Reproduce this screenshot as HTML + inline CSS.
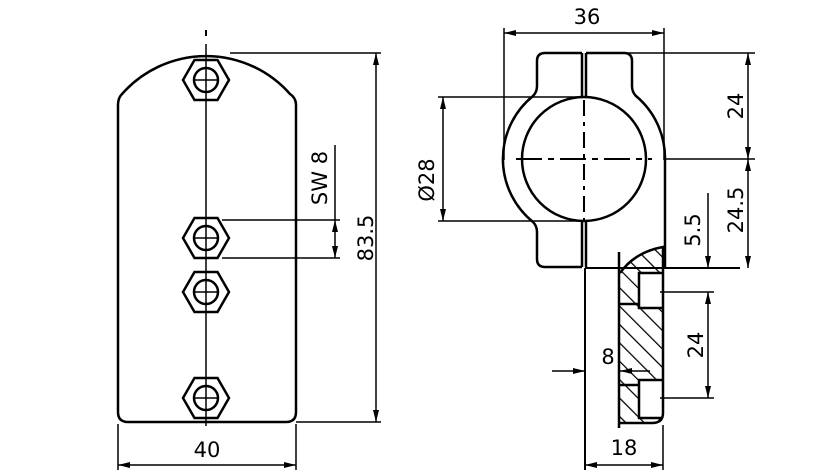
<!DOCTYPE html>
<html><head><style>html,body{margin:0;padding:0;background:#fff}svg{display:block}</style></head>
<body>
<svg width="827" height="475" viewBox="0 0 827 475" xmlns="http://www.w3.org/2000/svg" font-family="'DejaVu Sans','Liberation Sans',sans-serif" font-size="21" fill="none" stroke="#000">
<defs>
<marker id="a" viewBox="0 0 12 6" refX="12" refY="3" markerWidth="12" markerHeight="6" orient="auto-start-reverse" markerUnits="userSpaceOnUse"><path d="M0,0 L12,3 L0,6z" fill="#000" stroke="none"/></marker>
<g id="nut"><polygon points="-23,0 -11.5,-20 11.5,-20 23,0 11.5,20 -11.5,20" stroke-width="2.5"/><circle r="12" stroke-width="2.5"/><line x1="-12" y1="0" x2="12" y2="0" stroke-width="1.5"/></g>
<pattern id="h" patternUnits="userSpaceOnUse" width="13" height="13" patternTransform="rotate(-45)"><line x1="0" y1="0" x2="0" y2="13" stroke="#000" stroke-width="2.5"/></pattern>
</defs>

<!-- LEFT VIEW -->
<path d="M118,105 Q118,98 122,94 A112,112 0 0 1 290,94 Q296,98 296,105 L296,412 Q296,422 286,422 L128,422 Q118,422 118,412 Z" stroke-width="2.5"/>
<line x1="206" y1="30" x2="206" y2="36" stroke-width="2"/>
<line x1="206" y1="44" x2="206" y2="426" stroke-width="1.5"/>
<use href="#nut" x="206" y="80"/>
<use href="#nut" x="206" y="238"/>
<use href="#nut" x="206" y="292"/>
<use href="#nut" x="206" y="398"/>
<g stroke-width="1.5">
<line x1="230" y1="53" x2="381" y2="53"/>
<line x1="296" y1="422" x2="381" y2="422"/>
<line x1="376" y1="53" x2="376" y2="422" marker-start="url(#a)" marker-end="url(#a)"/>
<line x1="222" y1="220" x2="340" y2="220"/>
<line x1="222" y1="258" x2="340" y2="258"/>
<line x1="335" y1="145" x2="335" y2="220"/>
<line x1="335" y1="220" x2="335" y2="258" marker-start="url(#a)" marker-end="url(#a)"/>
<line x1="118" y1="424" x2="118" y2="470"/>
<line x1="296" y1="424" x2="296" y2="470"/>
<line x1="118" y1="465" x2="296" y2="465" marker-start="url(#a)" marker-end="url(#a)"/>
</g>
<g fill="#000" stroke="none">
<text x="207" y="457" text-anchor="middle">40</text>
<text transform="translate(373,238) rotate(-90)" text-anchor="middle">83.5</text>
<text transform="translate(327,178) rotate(-90)" text-anchor="middle">SW 8</text>
</g>

<!-- RIGHT VIEW clamp -->
<path d="M582,53 L545,53 Q537,53 537,61 L537,86 Q537,92 533,96 A81,81 0 0 0 533,222 Q537,226 537,232 L537,259 Q537,267 545,267 L582,267" stroke-width="2.5"/>
<path d="M586,53 L624,53 Q632,53 632,61 L632,86 Q632,92 636,96 A81,81 0 0 1 665,159 L665,268" stroke-width="2.5"/>
<circle cx="584" cy="159" r="62" stroke-width="2.5"/>
<line x1="582" y1="53" x2="582" y2="97" stroke-width="2.5"/>
<line x1="586" y1="53" x2="586" y2="97" stroke-width="2.5"/>
<line x1="582" y1="221" x2="582" y2="267" stroke-width="2.5"/>
<line x1="586" y1="221" x2="586" y2="267" stroke-width="2.5"/>
<line x1="584" y1="100" x2="584" y2="220" stroke-width="2" stroke-dasharray="16,6,4,6"/>
<line x1="516" y1="159" x2="652" y2="159" stroke-width="2" stroke-dasharray="26,6,6,6"/>
<line x1="585" y1="268" x2="740" y2="268" stroke-width="2"/>

<!-- bracket section -->
<path d="M620,273 Q635,252 663,247 L663,413 Q663,423 652,423 L620,423 Z" fill="url(#h)" stroke="none"/>
<rect x="639" y="273" width="24" height="35" fill="#fff" stroke="none"/>
<rect x="639" y="380" width="24" height="38" fill="#fff" stroke="none"/>
<path d="M620,273 Q635,252 663,247 L663,413 Q663,423 652,423 L620,423" stroke-width="2.5"/>
<path d="M663,273 L639,273 L639,308 L663,308 M663,380 L639,380 L639,418 L663,418 M620,304 L639,304 M620,385 L639,385" stroke-width="2.5"/>
<line x1="619" y1="252" x2="619" y2="428" stroke-width="2.5"/>
<line x1="585" y1="268" x2="585" y2="470" stroke-width="2"/>

<g stroke-width="1.5">
<line x1="504" y1="28" x2="504" y2="160"/>
<line x1="664" y1="28" x2="664" y2="160"/>
<line x1="504" y1="33" x2="664" y2="33" marker-start="url(#a)" marker-end="url(#a)"/>
<line x1="438" y1="97" x2="580" y2="97"/>
<line x1="438" y1="221" x2="580" y2="221"/>
<line x1="443" y1="97" x2="443" y2="221" marker-start="url(#a)" marker-end="url(#a)"/>
<line x1="620" y1="53" x2="755" y2="53"/>
<line x1="664" y1="159" x2="755" y2="159"/>
<line x1="748" y1="53" x2="748" y2="159" marker-start="url(#a)" marker-end="url(#a)"/>
<line x1="748" y1="159" x2="748" y2="268" marker-start="url(#a)" marker-end="url(#a)"/>
<line x1="708" y1="193" x2="708" y2="268" marker-end="url(#a)"/>
<line x1="660" y1="292" x2="714" y2="292"/>
<line x1="660" y1="398" x2="714" y2="398"/>
<line x1="708" y1="292" x2="708" y2="398" marker-start="url(#a)" marker-end="url(#a)"/>
<line x1="552" y1="371" x2="585" y2="371" marker-end="url(#a)"/>
<line x1="650" y1="371" x2="620" y2="371" marker-end="url(#a)"/>
<line x1="663" y1="425" x2="663" y2="470"/>
<line x1="585" y1="465" x2="663" y2="465" marker-start="url(#a)" marker-end="url(#a)"/>
</g>
<g fill="#000" stroke="none">
<text x="587" y="24" text-anchor="middle">36</text>
<text transform="translate(434,180) rotate(-90)" text-anchor="middle">Ø28</text>
<text transform="translate(743,106) rotate(-90)" text-anchor="middle">24</text>
<text transform="translate(743,210) rotate(-90)" text-anchor="middle">24.5</text>
<text transform="translate(700,230) rotate(-90)" text-anchor="middle">5.5</text>
<text transform="translate(703,345) rotate(-90)" text-anchor="middle">24</text>
<text x="608" y="364" text-anchor="middle">8</text>
<text x="624" y="455" text-anchor="middle">18</text>
</g>
</svg>
</body></html>
